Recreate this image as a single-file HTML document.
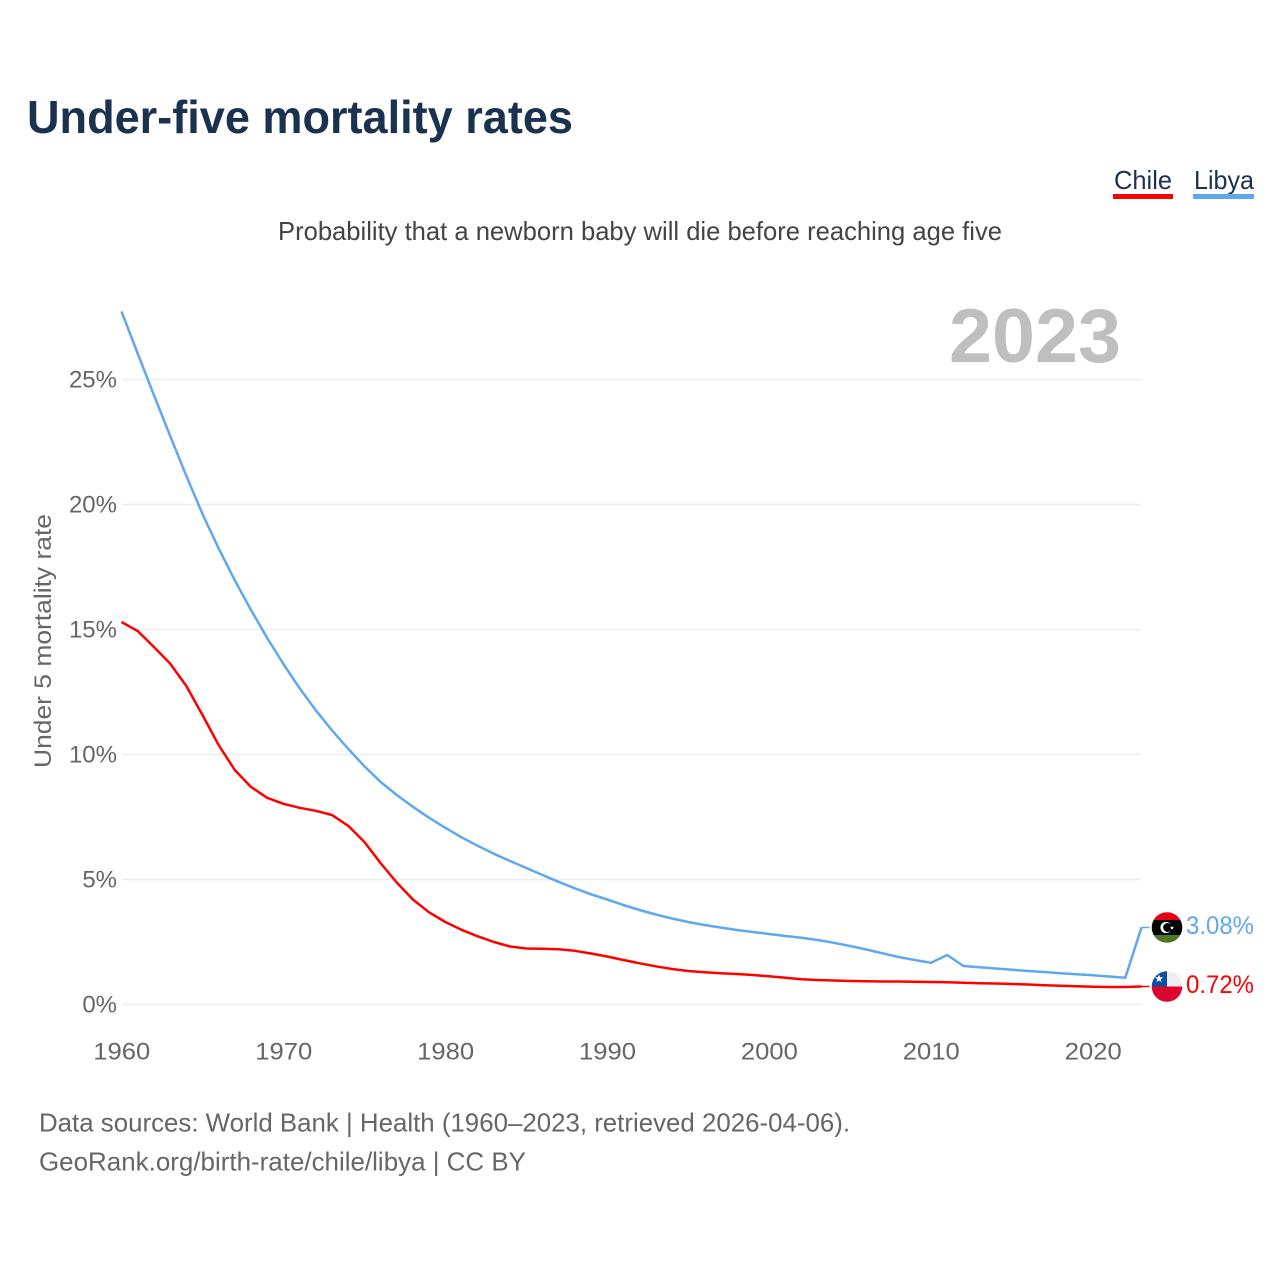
<!DOCTYPE html>
<html lang="en">
<head>
<meta charset="utf-8">
<title>Under-five mortality rates</title>
<style>
html,body{margin:0;padding:0;background:#fff;width:1280px;height:1280px;overflow:hidden}
svg{display:block;font-family:"Liberation Sans",Arial,sans-serif}
</style>
</head>
<body>
<svg id="chart" xmlns="http://www.w3.org/2000/svg" width="1280" height="1280" viewBox="0 0 1280 1280">
  <rect width="1280" height="1280" fill="#fff"/>
  <text x="27" y="133" font-size="46" font-weight="700" fill="#1a3150" textLength="546" lengthAdjust="spacingAndGlyphs">Under-five mortality rates</text>
  <g>
    <g>
      <text x="1114" y="189" font-size="26" fill="#1a3150" textLength="58" lengthAdjust="spacingAndGlyphs">Chile</text>
      <rect x="1113" y="194" width="60" height="5" fill="#ff0000"/>
    </g>
    <g>
      <text x="1194" y="189" font-size="26" fill="#1a3150" textLength="60" lengthAdjust="spacingAndGlyphs">Libya</text>
      <rect x="1193" y="194" width="61" height="5" fill="#5fa7ee"/>
    </g>
  </g>
  <text x="278" y="240" font-size="26" fill="#444" textLength="724" lengthAdjust="spacingAndGlyphs">Probability that a newborn baby will die before reaching age five</text>
  <text x="949" y="362" font-size="76" font-weight="700" fill="#bfbfbf" textLength="172" lengthAdjust="spacingAndGlyphs">2023</text>
  <g id="grid"></g>
  <g id="yticks"></g>
  <g id="xticks"></g>
  <text transform="translate(51,768) rotate(-90)" font-size="24" fill="#666" textLength="254" lengthAdjust="spacingAndGlyphs">Under 5 mortality rate</text>
  <g id="series"></g>
  <defs>
    <clipPath id="clip-libya"><circle cx="0" cy="0" r="15.3"/></clipPath>
    <clipPath id="clip-chile"><circle cx="0" cy="0" r="15.3"/></clipPath>
  </defs>
  <g id="flag-libya">
    <g clip-path="url(#clip-libya)">
      <rect x="-16" y="-16" width="32" height="8.5" fill="#e70013"/>
      <rect x="-16" y="-7.5" width="32" height="15" fill="#000"/>
      <rect x="-16" y="7.5" width="32" height="8.5" fill="#4b772b"/>
      <circle cx="-1" cy="0" r="5.6" fill="#fff"/>
      <circle cx="0.6" cy="0" r="4.5" fill="#000"/>
      <polygon points="5,-1.8 5.6,-0.3 7.2,-0.3 5.9,0.7 6.4,2.2 5,1.3 3.6,2.2 4.1,0.7 2.8,-0.3 4.4,-0.3" fill="#fff"/>
    </g>
  </g>
  <g id="flag-chile">
    <g clip-path="url(#clip-chile)">
      <rect x="-16" y="-16" width="32" height="16" fill="#eeeeee"/>
      <rect x="-16" y="0" width="32" height="16" fill="#dc0530"/>
      <rect x="-16" y="-16" width="16" height="16" fill="#0c4da2"/>
      <polygon points="-8,-12 -6.9,-9.2 -3.9,-9.2 -6.3,-7.3 -5.5,-4.4 -8,-6 -10.5,-4.4 -9.7,-7.3 -12.1,-9.2 -9.1,-9.2" fill="#fff"/>
    </g>
  </g>
  <g id="end-labels"></g>
  <text x="39" y="1131.5" font-size="26" fill="#666" textLength="811" lengthAdjust="spacingAndGlyphs">Data sources: World Bank | Health (1960–2023, retrieved 2026-04-06).</text>
  <text x="39" y="1170.5" font-size="26" fill="#666" textLength="487" lengthAdjust="spacingAndGlyphs">GeoRank.org/birth-rate/chile/libya | CC BY</text>
</svg>
<script>
const years = [1960,1961,1962,1963,1964,1965,1966,1967,1968,1969,1970,1971,1972,1973,1974,1975,1976,1977,1978,1979,1980,1981,1982,1983,1984,1985,1986,1987,1988,1989,1990,1991,1992,1993,1994,1995,1996,1997,1998,1999,2000,2001,2002,2003,2004,2005,2006,2007,2008,2009,2010,2011,2012,2013,2014,2015,2016,2017,2018,2019,2020,2021,2022,2023];
const chileValues = [15.3,14.94,14.3,13.64,12.74,11.58,10.38,9.38,8.7,8.27,8.03,7.87,7.75,7.58,7.15,6.5,5.66,4.88,4.2,3.69,3.3,2.99,2.73,2.5,2.32,2.24,2.23,2.21,2.15,2.04,1.92,1.78,1.65,1.53,1.42,1.34,1.29,1.25,1.22,1.18,1.13,1.07,1.01,0.98,0.96,0.94,0.93,0.92,0.92,0.91,0.9,0.89,0.87,0.85,0.84,0.82,0.8,0.77,0.75,0.73,0.71,0.7,0.7,0.72];
const libyaValues = [27.72,26.04,24.38,22.75,21.15,19.62,18.25,16.97,15.78,14.66,13.62,12.65,11.77,10.97,10.23,9.53,8.91,8.38,7.91,7.47,7.07,6.69,6.35,6.03,5.74,5.46,5.18,4.91,4.65,4.41,4.2,3.98,3.78,3.6,3.44,3.3,3.18,3.08,2.98,2.9,2.82,2.74,2.67,2.58,2.47,2.34,2.2,2.05,1.9,1.78,1.67,1.98,1.54,1.49,1.44,1.39,1.34,1.3,1.25,1.21,1.17,1.12,1.07,3.08];
const yTickValues = [0,5,10,15,20,25];
const xTickValues = [1960,1970,1980,1990,2000,2010,2020];

const NS = 'http://www.w3.org/2000/svg';
const xScale = function (v) { return 121.5 + (v - 1960) * (1020 / 63); };
const yScale = function (v) { return 1004.5 - v * 25; };

function make(tag, parent, attrs) {
  const el = document.createElementNS(NS, tag);
  for (const k in attrs) el.setAttribute(k, attrs[k]);
  parent.appendChild(el);
  return el;
}

const grid = document.getElementById('grid');
const yticks = document.getElementById('yticks');
const xticks = document.getElementById('xticks');
const seriesGroup = document.getElementById('series');
const endLabels = document.getElementById('end-labels');

yTickValues.forEach(function (v) {
  const line = make('line', grid, {x1: 122, x2: 1141, y1: yScale(v), y2: yScale(v), stroke: '#eeeeee', 'stroke-width': 1.5});
  
  
  const label = make('text', yticks, {x: 117, y: yScale(v) + 8, 'text-anchor': 'end', 'font-size': 24, fill: '#666'});
  
  
  label.textContent = v + '%';
});

xTickValues.forEach(function (v) {
  const label = make('text', xticks, {x: xScale(v) - 28.2, y: 1059.5, 'font-size': 24.5, fill: '#666', textLength: 57, lengthAdjust: 'spacingAndGlyphs'});
  
  
  label.textContent = String(v);
});

function drawSeries(values, color, name) {
  const last = values[values.length - 1];
  const pts = values.map(function (v, i) { return xScale(years[i]).toFixed(1) + ',' + yScale(v).toFixed(1); });
  const line = make('polyline', seriesGroup, {points: pts.join(' '), fill: 'none', stroke: color, 'stroke-width': 2.5, 'stroke-linejoin': 'round'});
  
  
  const leader = make('line', seriesGroup, {x1: xScale(2023), x2: xScale(2023) + 8, y1: yScale(last), y2: yScale(last), stroke: color, 'stroke-width': 1.5});
  
  
  const label = make('text', endLabels, {x: 1186, y: yScale(last) + 6.5, 'font-size': 25, fill: color, textLength: 68, lengthAdjust: 'spacingAndGlyphs'});
  
  
  label.textContent = last.toFixed(2) + '%';
  document.getElementById('flag-' + name).setAttribute('transform', 'translate(1167,' + yScale(last) + ')');
}

drawSeries(libyaValues, '#5fa7ee', 'libya');
drawSeries(chileValues, '#ff0000', 'chile');
</script>
</body>
</html>
